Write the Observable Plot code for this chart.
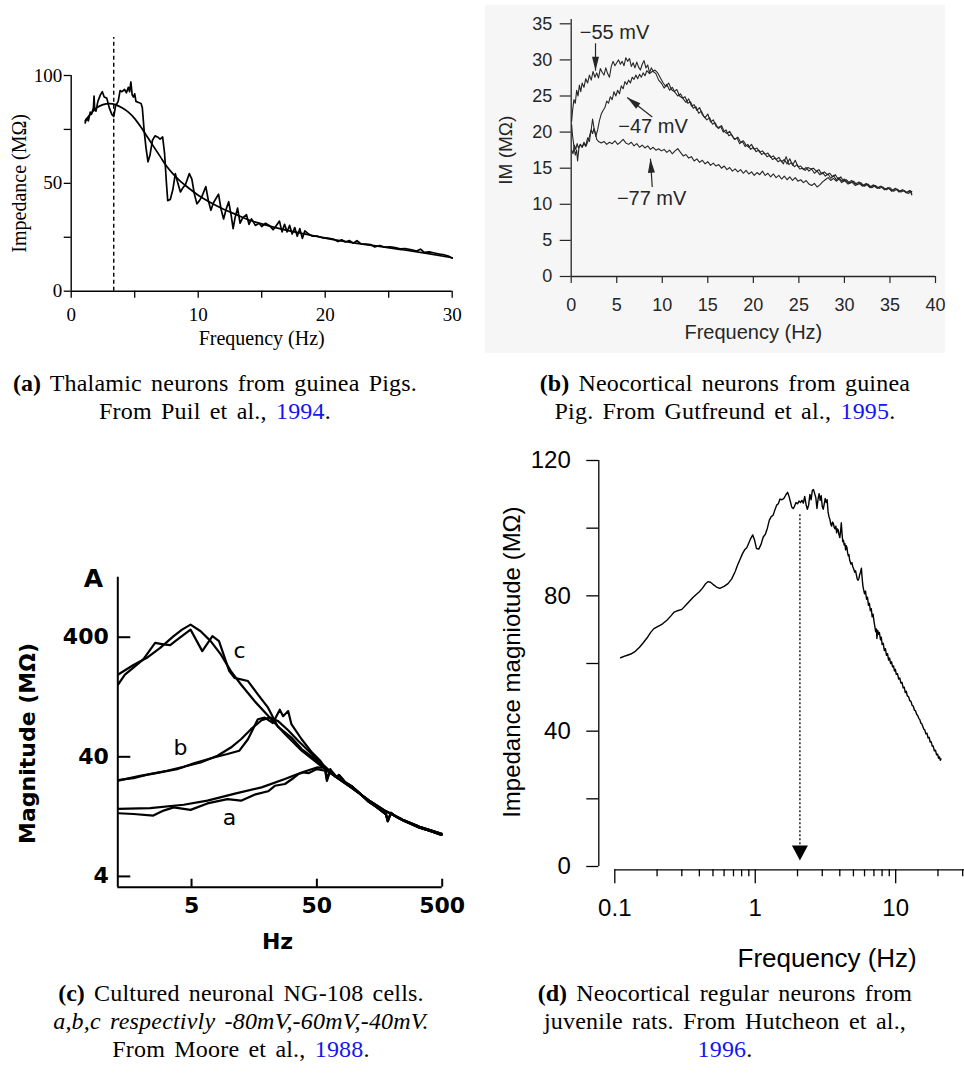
<!DOCTYPE html>
<html><head><meta charset="utf-8">
<script src="https://cdn.jsdelivr.net/npm/d3@7"></script>
<script src="https://cdn.jsdelivr.net/npm/@observablehq/plot@0.6"></script>
<style>
body{margin:0;background:#fff;}
#fig{position:relative;width:964px;height:1077px;overflow:hidden;background:#fff;}
#fig svg{position:absolute;overflow:visible;max-width:none;}
.cap{position:absolute;text-align:center;font-family:"Liberation Serif",serif;font-size:24px;line-height:28px;color:#000;letter-spacing:0.2px;word-spacing:3px;white-space:nowrap;}
.cap b{font-weight:bold;letter-spacing:0}
.cap .yr{color:#1515f0}
</style></head><body><div id="fig"></div>
<script>
// ---------- (a) Puil et al. 1994 ----------
const aXTicks = [0, 5, 10, 15, 20, 25, 30];
const aXLabels = [0, 10, 20, 30];
const aYTicks = [0, 25, 50, 75, 100];
const aYLabels = [0, 50, 100];
const aDash = [3.35, 117.6]; // frequency, top value
const aSmooth = [[1.1,79],[1.5,82],[2,85],[2.5,86.5],[3,87],[3.5,86.5],[4,85],[4.5,83],[5,80],[5.5,76],[6,71.5],[6.5,67],[7,62.5],[7.5,58],[8,54.5],[8.5,51.5],[9,49],[10,44.5],[11,41],[12,38],[13,35.5],[14,33],[15,31.2],[16,29.6],[17,28.2],[18,27],[19,25.8],[20,24.6],[22,22.6],[24,21],[26,19.3],[28,17.5],[30,15.5]];
const aNoisy = [[1.1,78],[1.2,80],[1.35,79],[1.5,83],[1.6,82],[1.75,85],[1.8,90.5],[1.85,84],[1.95,83.5],[2.1,88],[2.3,91],[2.45,92.5],[2.6,90],[2.8,89.5],[3.0,85],[3.2,82],[3.35,81],[3.5,86],[3.7,88],[3.85,93],[4.0,92.5],[4.2,93.5],[4.35,92],[4.5,94.5],[4.6,92.5],[4.7,97],[4.8,91],[4.9,90],[5.0,91.5],[5.1,88],[5.3,87.5],[5.5,87],[5.6,85],[5.75,74],[5.9,66],[6.05,60],[6.2,63],[6.4,70],[6.6,72],[6.8,71.5],[7.0,70.5],[7.2,71.5],[7.35,64],[7.5,50],[7.6,42],[7.8,42.5],[8.0,47],[8.2,54.5],[8.4,50],[8.6,46],[8.8,48],[9.0,49.5],[9.3,54.5],[9.5,52],[9.7,45],[9.9,40.5],[10.1,42],[10.3,44],[10.6,48.5],[10.8,42],[11.0,37.5],[11.2,41],[11.4,43],[11.6,45],[11.8,38],[12.0,33.5],[12.2,38],[12.4,41.5],[12.6,35],[12.75,29],[12.9,34],[13.1,38.5],[13.3,31.5],[13.5,34],[13.8,35.5],[14.0,31],[14.2,33.5],[14.5,30.5],[14.8,31.5],[15.0,30],[15.3,31.5],[15.6,30.5],[15.9,28.5],[16.1,30],[16.4,32.5],[16.6,27.5],[16.8,31],[17.0,27.5],[17.2,30.5],[17.4,26.5],[17.6,29.5],[17.8,25.5],[18.0,29],[18.2,24.5],[18.4,28],[18.7,26.5],[19.0,25.5],[19.4,25.5],[19.8,24.8],[20.3,24.5],[20.7,24],[21.0,23],[21.3,23.8],[21.6,22.8],[21.9,23.5],[22.2,22.3],[22.5,23.4],[22.8,22],[23.2,21.8],[23.6,21.6],[23.9,20.5],[24.3,21.2],[24.7,20.4],[25.1,20.6],[25.5,20.2],[25.9,19.6],[26.3,19.7],[26.8,19.2],[27.2,18.6],[27.5,19.5],[27.8,18],[28.2,18.2],[28.6,17.7],[29.0,17.2],[29.4,16.8],[29.7,16.3],[30.0,15.3]];

// ---------- (b) Gutfreund et al. 1995 ----------
const bXTicks = [0, 5, 10, 15, 20, 25, 30, 35, 40];
const bYTicks = [0, 5, 10, 15, 20, 25, 30, 35];
const b55 = [[0.05,21.5],[0.15,23],[0.3,24.5],[0.45,24],[0.6,25.8],[0.75,25],[0.9,26.5],[1.05,25.6],[1.2,26.8],[1.4,26.2],[1.6,27.4],[1.8,26.8],[2.0,27.9],[2.2,27.2],[2.4,28.4],[2.6,27.6],[2.8,28.2],[3.0,27.5],[3.2,28.8],[3.4,28.3],[3.6,27.9],[3.8,28.9],[4.0,28.1],[4.2,27.6],[4.4,29.1],[4.6,29.8],[4.8,29.2],[5.0,29.6],[5.2,30.0],[5.4,29.4],[5.6,29.8],[5.8,29.2],[6.0,30.3],[6.2,29.8],[6.4,30.2],[6.6,29.1],[6.8,29.6],[7.0,28.9],[7.2,29.7],[7.4,29.0],[7.6,28.6],[7.8,29.4],[8.0,29.9],[8.2,28.9],[8.4,29.3],[8.6,28.2],[8.8,28.9],[9.0,28.4],[9.3,28.1],[9.6,27.2],[9.9,26.8],[10.2,26.1],[10.5,26.6],[10.8,25.8],[11.1,26.2],[11.4,25.5],[11.7,25.0],[12.0,25.3],[12.3,24.6],[12.6,24.1],[12.9,24.6],[13.2,23.6],[13.5,23.8],[13.8,23.0],[14.1,23.4],[14.4,22.4],[14.7,22.0],[15.0,22.5],[15.3,21.4],[15.6,21.7],[15.9,20.8],[16.2,20.5],[16.5,20.9],[16.8,20.1],[17.1,19.8],[17.4,20.1],[17.7,19.4],[18.0,19.0],[18.3,19.3],[18.6,18.6],[18.9,18.8],[19.2,18.2],[19.5,17.9],[19.8,18.3],[20.1,17.6],[20.4,17.8],[20.7,17.2],[21.0,17.4],[21.3,16.9],[21.6,17.1],[21.9,16.5],[22.2,16.7],[22.5,16.2],[22.8,16.5],[23.1,15.9],[23.4,16.2],[23.7,15.6],[24.0,16.3],[24.3,15.4],[24.6,16.1],[24.9,15.2],[25.2,15.3],[25.5,14.8],[25.8,15.1],[26.1,14.6],[26.4,14.9],[26.7,14.3],[27.0,14.6],[27.3,14.1],[27.6,14.4],[27.9,13.9],[28.2,14.2],[28.5,13.6],[28.8,14.0],[29.1,13.4],[29.4,13.7],[29.7,13.2],[30.0,13.5],[30.4,13.0],[30.8,13.3],[31.2,12.8],[31.6,13.1],[32.0,12.6],[32.4,12.9],[32.8,12.4],[33.2,12.7],[33.6,12.3],[34.0,12.5],[34.4,12.1],[34.8,12.3],[35.2,11.9],[35.6,12.2],[36.0,11.8],[36.4,12.0],[36.8,11.6],[37.2,11.9],[37.4,11.5]];
const b47 = [[0.05,17.5],[0.2,17.0],[0.35,18.2],[0.5,17.6],[0.65,18.4],[0.8,17.8],[1.0,18.3],[1.2,17.9],[1.4,18.6],[1.6,18.1],[1.8,19.2],[2.0,18.7],[2.2,20.4],[2.35,21.8],[2.5,20.6],[2.7,19.4],[2.9,20.3],[3.1,21.6],[3.3,22.5],[3.5,23.0],[3.7,23.4],[3.9,24.3],[4.1,24.0],[4.3,24.9],[4.5,24.5],[4.7,25.6],[4.9,25.0],[5.1,25.8],[5.3,25.3],[5.5,26.4],[5.7,26.0],[5.9,27.0],[6.1,26.6],[6.3,27.2],[6.5,26.8],[6.7,27.6],[6.9,27.3],[7.1,27.9],[7.3,27.4],[7.5,28.0],[7.7,27.6],[7.9,28.2],[8.1,27.8],[8.3,28.5],[8.6,28.1],[8.9,28.4],[9.2,28.6],[9.5,28.2],[9.8,27.5],[10.1,26.8],[10.4,26.3],[10.7,26.8],[11.0,25.9],[11.3,25.6],[11.6,25.9],[11.9,25.0],[12.2,24.7],[12.5,24.9],[12.8,24.0],[13.1,24.2],[13.4,23.3],[13.7,23.5],[14.0,22.6],[14.3,22.9],[14.6,22.1],[14.9,21.7],[15.2,22.0],[15.5,21.1],[15.8,21.3],[16.1,20.6],[16.4,20.8],[16.7,20.0],[17.0,20.3],[17.3,19.5],[17.6,19.7],[17.9,19.0],[18.2,19.2],[18.5,18.4],[18.8,18.7],[19.1,18.0],[19.4,18.3],[19.7,17.6],[20.0,17.9],[20.3,17.3],[20.6,17.5],[20.9,16.9],[21.2,17.1],[21.5,16.6],[21.8,16.8],[22.1,16.2],[22.4,16.4],[22.7,15.9],[23.0,16.1],[23.3,15.6],[23.6,16.6],[23.9,15.5],[24.2,15.8],[24.5,15.2],[24.8,15.5],[25.1,14.9],[25.4,15.0],[25.7,14.7],[26.0,15.1],[26.3,14.9],[26.6,15.0],[26.9,14.6],[27.2,14.8],[27.5,14.2],[27.8,14.5],[28.1,14.1],[28.4,14.3],[28.7,13.8],[29.0,14.1],[29.3,13.5],[29.6,13.8],[29.9,13.2],[30.2,13.4],[30.6,12.9],[31.0,13.2],[31.4,12.7],[31.8,13.0],[32.2,12.5],[32.6,12.8],[33.0,12.3],[33.4,12.6],[33.8,12.2],[34.2,12.4],[34.6,12.0],[35.0,12.3],[35.4,11.8],[35.8,12.1],[36.2,11.7],[36.6,11.9],[37.0,11.5],[37.4,11.8]];
const b77 = [[0.05,21.0],[0.15,19.5],[0.3,18.0],[0.45,16.8],[0.6,17.5],[0.7,16.0],[0.85,17.8],[1.0,18.3],[1.2,17.9],[1.4,18.4],[1.6,18.0],[1.8,18.6],[2.0,19.4],[2.2,20.3],[2.35,19.8],[2.5,20.5],[2.65,19.9],[2.8,19.0],[3.0,18.7],[3.3,18.5],[3.6,18.7],[3.9,18.3],[4.2,18.6],[4.5,18.4],[4.8,18.8],[5.1,18.3],[5.4,18.6],[5.7,19.0],[6.0,18.5],[6.3,18.3],[6.6,18.6],[6.9,18.1],[7.2,18.4],[7.5,17.9],[7.8,18.2],[8.1,17.8],[8.4,18.1],[8.7,17.6],[9.0,17.9],[9.3,17.5],[9.6,17.7],[9.9,17.4],[10.2,17.6],[10.5,17.2],[10.8,17.5],[11.1,17.0],[11.4,17.4],[11.7,17.7],[12.0,17.2],[12.3,16.7],[12.6,16.9],[12.9,16.4],[13.2,16.6],[13.5,16.0],[13.8,16.3],[14.1,15.8],[14.4,16.1],[14.7,15.6],[15.0,15.9],[15.3,15.4],[15.6,15.7],[15.9,15.3],[16.2,15.5],[16.5,15.0],[16.8,15.3],[17.1,14.8],[17.4,15.1],[17.7,14.6],[18.0,14.9],[18.3,14.5],[18.6,14.8],[18.9,14.3],[19.2,14.7],[19.5,14.2],[19.8,14.5],[20.1,14.0],[20.4,14.4],[20.7,14.1],[21.0,14.6],[21.3,14.0],[21.6,14.3],[21.9,13.8],[22.2,14.2],[22.5,13.7],[22.8,14.0],[23.1,13.5],[23.4,13.9],[23.7,13.4],[24.0,13.8],[24.3,13.3],[24.6,13.7],[24.9,13.2],[25.2,13.4],[25.5,13.0],[25.8,13.3],[26.1,12.8],[26.4,12.6],[26.7,12.9],[27.0,12.4],[27.3,12.7],[27.6,13.1],[27.9,13.4],[28.2,13.7],[28.5,13.3],[28.8,13.6],[29.1,13.2],[29.4,13.5],[29.7,13.0],[30.0,13.3],[30.4,12.8],[30.8,13.1],[31.2,12.6],[31.6,12.9],[32.0,12.5],[32.4,12.8],[32.8,12.3],[33.2,12.6],[33.6,12.2],[34.0,12.5],[34.4,12.0],[34.8,12.3],[35.2,11.8],[35.6,12.2],[36.0,11.7],[36.4,12.0],[36.8,11.6],[37.2,11.9],[37.4,11.3]];
const bLabels = [{text: "\u221255 mV", f: 4.76, v: 33.8}, {text: "\u221247 mV", f: 8.98, v: 20.7}, {text: "\u221277 mV", f: 8.83, v: 10.8}];
const bArrows = [{f1: 2.67, v1: 32.3, f2: 2.67, v2: 28.5}, {f1: 8.9, v1: 22.1, f2: 6.15, v2: 24.8}, {f1: 8.9, v1: 12.4, f2: 8.7, v2: 16.3}];

// ---------- (c) Moore et al. 1988 ----------
const cXDomain = [1.29, 500];
const cYDomain = [3.25, 1270];
const cXTicks = [5, 50, 500];
const cYTicks = [4, 40, 400];
const cTailSmooth = [[70,27.5],[95,22],[130,17.3],[178,14],[242,11.9],[330,10.4],[494,9.1]];
const cTailNoisy = [[66,30],[72,27],[75,28.2],[84,24.5],[96,22.5],[110,19.8],[130,16.8],[150,15.2],[178,13.2],[184,11.6],[195,13.6],[215,12.6],[242,11.8],[280,11.0],[330,10.2],[400,9.6],[494,8.9]];
const cSmoothC = [[1.30,195],[1.72,234],[2.20,269],[2.81,326],[3.60,408],[4.20,463],[4.91,510],[5.91,449],[7.10,371],[8.56,287],[10.3,208],[12.4,161],[15.9,117],[20.4,88],[27.8,62],[37.8,45],[51.7,34.8]];
const cNoisyC = [[1.30,161],[1.47,195],[1.71,222],[2.06,261],[2.56,359],[2.99,348],[3.38,343],[3.71,371],[4.91,463],[6.09,306],[7.34,408],[8.28,371],[10.0,208],[11.0,183],[14.1,172],[16.9,133],[20.4,103],[24.3,72],[31.3,58],[37.8,46.4],[48.3,38.3],[58.3,31.6],[60.1,26.1],[64,31.6]];
const cSmoothB = [[1.30,25.6],[1.72,26.5],[2.34,28.7],[3.18,30.6],[4.33,33.0],[5.91,35.9],[8.05,40.8],[10.3,47.8],[12.4,56.1],[14.9,68.1],[18.1,80.9],[21.0,85.1],[24.4,79.8],[29.5,66.7],[35.6,54.3],[42.8,44.9],[51.7,37.1],[62.3,31]];
const cNoisyB = [[1.30,25.3],[1.94,27.7],[2.81,29.6],[3.83,31.5],[5.22,35.3],[7.53,39.5],[9.68,42.2],[12.0,44.9],[14.1,56.1],[16.9,82.4],[19.2,85.1],[22.3,76.7],[25.3,99],[26.9,87.5],[29.5,96.5],[31.3,75.2],[37.8,56.1],[45.6,43.6],[53.2,37.1],[60.1,30.6]];
const cSmoothA = [[1.30,14.7],[2.34,14.9],[4.33,15.9],[6.69,17.2],[10.9,19.6],[18.1,22.2],[27.8,26.1],[37.8,29.6],[50.0,32.6],[58.3,32.4]];
const cNoisyA = [[1.30,13.5],[1.72,13.3],[2.48,12.9],[2.99,14.2],[3.60,15.1],[4.91,14.4],[6.69,16.3],[9.68,17.7],[12.4,17.2],[15.9,19.3],[20.4,20.6],[23.1,22.9],[27.8,23.7],[32.6,26.6],[35.6,28.7],[39.0,29.6],[42.8,29.2],[50.0,31.6],[58.3,30.6],[60.1,25.2],[64,30.6]];
const cCurveLabels = [{t: "c", f: 12.08, v: 309.6}, {t: "b", f: 4.08, v: 47.3}, {t: "a", f: 10.06, v: 12.3}];

// ---------- (d) Hutcheon et al. 1996 ----------
const dXDomain = [0.1, 30.9];
const dXMajor = [0.1, 1, 10];
const dXMinor = [0.2,0.3,0.4,0.5,0.6,0.7,0.8,0.9,2,3,4,5,6,7,8,9,20,30];
const dYTicks = [0, 20, 40, 60, 80, 100, 120];
const dYLabels = [0, 40, 80, 120];
const dPeak = [2.08, 104, 1.8]; // frequency, arrow start, arrow tip
const dCurve = [[0.11,61.7],[0.12,62.3],[0.13,62.8],[0.14,63.6],[0.15,64.8],[0.16,66.2],[0.17,67.6],[0.18,69.2],[0.19,70.3],[0.2,70.8],[0.21,71.3],[0.22,71.8],[0.235,72.8],[0.25,74.0],[0.265,75.2],[0.28,75.6],[0.3,76.0],[0.32,77.2],[0.34,78.4],[0.36,79.5],[0.38,80.4],[0.40,81.2],[0.42,82.2],[0.44,83.4],[0.46,84.2],[0.48,84.0],[0.50,83.4],[0.53,82.6],[0.56,82.2],[0.6,82.8],[0.64,83.6],[0.68,85.0],[0.72,87.2],[0.75,89.2],[0.78,90.8],[0.81,92.4],[0.84,93.6],[0.87,94.2],[0.9,95.6],[0.93,97.0],[0.96,98.0],[0.99,96.4],[1.02,94.0],[1.06,93.8],[1.1,95.2],[1.14,97.4],[1.18,98.2],[1.22,100.0],[1.26,102.4],[1.3,103.4],[1.34,103.8],[1.38,105.4],[1.42,106.8],[1.46,107.2],[1.5,108.6],[1.55,108.4],[1.6,108.8],[1.65,109.8],[1.7,110.6],[1.74,109.4],[1.78,107.8],[1.82,106.2],[1.86,105.8],[1.9,106.4],[1.95,107.6],[2.0,107.2],[2.05,108.0],[2.1,107.6],[2.15,108.2],[2.2,107.4],[2.25,109.4],[2.3,107.0],[2.35,105.6],[2.4,106.8],[2.45,110.0],[2.5,108.4],[2.55,111.2],[2.6,111.4],[2.65,110.2],[2.7,109.0],[2.75,105.8],[2.8,108.6],[2.85,110.2],[2.9,108.2],[2.95,109.6],[3.0,106.4],[3.05,105.6],[3.1,107.2],[3.15,108.8],[3.2,107.6],[3.25,108.4],[3.3,104.8],[3.35,103.4],[3.4,102.6],[3.45,101.2],[3.5,100.6],[3.55,101.8],[3.6,101.4],[3.65,100.2],[3.7,99.8],[3.75,100.6],[3.8,98.6],[3.85,99.8],[3.9,99.4],[3.95,98.0],[4.0,97.2],[4.05,99.0],[4.1,101.6],[4.15,98.4],[4.2,96.0],[4.25,96.4],[4.3,95.0],[4.35,95.4],[4.4,93.6],[4.45,94.8],[4.5,94.2],[4.55,92.6],[4.6,91.8],[4.65,92.2],[4.7,90.6],[4.75,90.0],[4.8,89.4],[4.88,89.8],[4.95,88.6],[5.02,88.0],[5.1,87.0],[5.18,87.4],[5.25,86.2],[5.32,85.0],[5.4,84.6],[5.48,85.2],[5.55,86.4],[5.62,87.0],[5.7,88.2],[5.75,86.0],[5.8,84.2],[5.85,82.8],[5.9,82.0],[6.0,80.6],[6.1,81.4],[6.2,79.0],[6.3,79.6],[6.4,77.2],[6.5,77.8],[6.6,75.6],[6.7,76.2],[6.8,73.8],[6.9,74.6],[7.0,72.6],[7.1,71.0],[7.2,69.4],[7.3,70.2],[7.35,67.4],[7.45,69.8],[7.55,68.6],[7.65,69.2],[7.8,67.0],[7.9,67.8],[8.0,65.6],[8.15,66.0],[8.3,63.8],[8.45,64.4],[8.6,62.4],[8.75,62.9],[8.9,61.0],[9.05,61.6],[9.2,60.0],[9.35,60.5],[9.5,59.0],[9.65,59.3],[9.8,57.8],[9.95,58.3],[10.1,56.8],[10.3,57.0],[10.5,55.4],[10.7,55.7],[10.9,54.2],[11.1,54.4],[11.3,52.8],[11.5,53.0],[11.7,51.4],[11.9,51.8],[12.1,50.4],[12.35,50.2],[12.6,49.0],[12.85,48.8],[13.1,47.6],[13.35,47.4],[13.6,46.2],[13.85,46.0],[14.1,45.0],[14.35,44.6],[14.6,43.8],[14.85,43.4],[15.1,42.4],[15.35,42.2],[15.6,41.4],[15.85,40.6],[16.1,40.4],[16.4,39.2],[16.7,39.4],[17.0,38.0],[17.3,38.2],[17.6,36.8],[17.9,36.9],[18.2,35.6],[18.5,35.6],[18.85,34.2],[19.2,34.4],[19.55,33.0],[19.9,33.2],[20.2,32.0],[20.5,32.4],[20.8,31.4],[21.0,31.8]];

// ---------- helpers ----------
const fig = document.getElementById("fig");
function put(el, left, top) { el.style.left = left + "px"; el.style.top = top + "px"; fig.appendChild(el); }
const fx = d => d[0], fy = d => d[1];
const mid = {textAnchor: "middle", lineAnchor: "middle"};
// arrowhead symbol: tip at origin, pointing up
function head(L, W) { return {draw(ctx) { ctx.moveTo(0, 0); ctx.lineTo(-W / 2, L); ctx.lineTo(W / 2, L); ctx.closePath(); }}; }

// ---------- panel (a) ----------
const serif = '"Liberation Serif", "Times New Roman", serif';
put(Plot.plot({
  width: 480, height: 355, marginLeft: 70.7, marginRight: 28.3, marginTop: 75, marginBottom: 64.3,
  x: {domain: [0, 30]}, y: {domain: [0, 100]},
  style: {fontFamily: serif, fontSize: "19px", color: "#000", background: "transparent"},
  marks: [
    Plot.ruleY([0], {x1: 0, x2: 30, strokeWidth: 1.4}),
    Plot.ruleX([0], {y1: 0, y2: 100, strokeWidth: 1.4}),
    Plot.axisX({ticks: aXTicks, tickSize: 7, tickPadding: 9, strokeWidth: 1.3, label: null, tickFormat: d => aXLabels.includes(d) ? String(d) : ""}),
    Plot.axisY({ticks: aYTicks, tickSize: 7, tickPadding: 2, strokeWidth: 1.3, label: null, tickFormat: d => aYLabels.includes(d) ? String(d) : ""}),
    Plot.ruleX([aDash[0]], {y1: 0, y2: aDash[1], strokeDasharray: "4,3", strokeWidth: 1.4}),
    Plot.line(aSmooth, {x: fx, y: fy, strokeWidth: 1.7, curve: "monotone-x"}),
    Plot.line(aNoisy, {x: fx, y: fy, strokeWidth: 1.7}),
    Plot.text(["Impedance (M\u03a9)"], {frameAnchor: "left", dx: -51.7, rotate: -90, fontSize: 20, ...mid}),
    Plot.text(["Frequency (Hz)"], {frameAnchor: "bottom", dy: 47.3, fontSize: 20, ...mid})
  ]
}), 0, 0);

// ---------- panel (b) ----------
const sans = '"Liberation Sans", Arial, Helvetica, sans-serif';
const bInk = "#262626";
const bx = d => d.f, by = d => d.v;
put(Plot.plot({
  width: 460, height: 348, marginLeft: 85.7, marginRight: 10, marginTop: 18.3, marginBottom: 77,
  x: {domain: [0, 40]}, y: {domain: [0, 35]},
  style: {fontFamily: sans, fontSize: "18px", color: bInk, background: "#f6f6f6"},
  marks: [
    Plot.ruleY([0], {x1: 0, x2: 40, stroke: bInk, strokeWidth: 1.3}),
    Plot.ruleX([0], {y1: 0, y2: 35.6, stroke: bInk, strokeWidth: 1.3}),
    Plot.axisX({ticks: bXTicks, tickSize: 7, tickPadding: 15, stroke: bInk, strokeWidth: 1.2, label: null}),
    Plot.axisY({ticks: bYTicks, tickSize: 11, tickPadding: 8, stroke: bInk, strokeWidth: 1.2, label: null}),
    Plot.line(b77, {x: fx, y: fy, stroke: bInk, strokeWidth: 1.1}),
    Plot.line(b47, {x: fx, y: fy, stroke: bInk, strokeWidth: 1.1}),
    Plot.line(b55, {x: fx, y: fy, stroke: bInk, strokeWidth: 1.1}),
    Plot.link(bArrows, {x1: d => d.f1, y1: d => d.v1, x2: d => d.f2, y2: d => d.v2, stroke: bInk, strokeWidth: 1.2}),
    Plot.dot([bArrows[0]], {x: d => d.f2, y: d => d.v2, symbol: head(14, 7), r: 5, fill: bInk, stroke: null, rotate: 180}),
    Plot.dot([bArrows[1]], {x: d => d.f2, y: d => d.v2, symbol: head(14, 7), r: 5, fill: bInk, stroke: null, rotate: -52}),
    Plot.dot([bArrows[2]], {x: d => d.f2, y: d => d.v2, symbol: head(14, 7), r: 5, fill: bInk, stroke: null, rotate: -4}),
    Plot.text(bLabels, {x: bx, y: by, text: d => d.text, fontSize: 20, fill: bInk}),
    Plot.text(["IM (M\u03a9)"], {frameAnchor: "left", dx: -65.7, rotate: -90, fontSize: 19, fill: bInk, ...mid}),
    Plot.text(["Frequency (Hz)"], {frameAnchor: "bottom", dy: 55.7, fontSize: 20, fill: bInk, ...mid})
  ]
}), 485, 5);

// ---------- panel (c) ----------
const dv = '"DejaVu Sans", Verdana, sans-serif';
put(Plot.plot({
  width: 480, height: 420, marginLeft: 117.3, marginRight: 38.3, marginTop: 36.7, marginBottom: 73.3,
  x: {type: "log", domain: cXDomain, axis: null}, y: {type: "log", domain: cYDomain},
  style: {fontFamily: dv, fontSize: "22px", fontWeight: "bold", color: "#000", background: "transparent"},
  marks: [
    Plot.ruleX([cXDomain[0]], {y1: cYDomain[0], y2: cYDomain[1], strokeWidth: 2}),
    Plot.ruleY([cYDomain[0]], {x1: cXDomain[0], x2: cXDomain[1], strokeWidth: 2}),
    Plot.tickX(cXTicks, {x: d => d, insetTop: 302, strokeWidth: 2}),
    Plot.text(cXTicks, {x: d => d, frameAnchor: "bottom", dy: 18.3, text: d => String(d), fontSize: 22, fontWeight: "bold", ...mid}),
    Plot.axisY({ticks: cYTicks, tickSize: -13, tickPadding: 22, strokeWidth: 2, label: null, tickFormat: d => String(d)}),
    Plot.line(cSmoothC.concat(cTailSmooth), {x: fx, y: fy, strokeWidth: 2.2}),
    Plot.line(cNoisyC.concat(cTailNoisy), {x: fx, y: fy, strokeWidth: 2.2}),
    Plot.line(cSmoothB.concat(cTailSmooth), {x: fx, y: fy, strokeWidth: 2.2}),
    Plot.line(cNoisyB.concat(cTailNoisy.slice(1)), {x: fx, y: fy, strokeWidth: 2.2}),
    Plot.line(cSmoothA.concat(cTailSmooth), {x: fx, y: fy, strokeWidth: 2.2}),
    Plot.line(cNoisyA.concat(cTailNoisy), {x: fx, y: fy, strokeWidth: 2.2}),
    Plot.text(cCurveLabels, {x: d => d.f, y: d => d.v, text: d => d.t, fontSize: 22, fontWeight: "normal"}),
    Plot.text(["A"], {frameAnchor: "top-left", dx: -24.3, dy: 1.3, fontSize: 25, fontWeight: "bold", ...mid}),
    Plot.text(["Magnitude (M\u03a9)"], {frameAnchor: "left", dx: -90.3, dy: 11.3, rotate: -90, fontSize: 22, fontWeight: "bold", ...mid}),
    Plot.text(["Hz"], {frameAnchor: "bottom", dx: -2.5, dy: 55, fontSize: 22, fontWeight: "bold", ...mid})
  ]
}), 0, 540);

// ---------- panel (d) ----------
put(Plot.plot({
  width: 484, height: 535, marginLeft: 118.3, marginRight: 0, marginTop: 20, marginBottom: 105.7,
  x: {type: "log", domain: dXDomain, range: [134.3, 484]},
  y: {domain: [0, 120], range: [426, 20]},
  style: {fontFamily: sans, fontSize: "24px", color: "#000", background: "transparent"},
  marks: [
    Plot.ruleX([dXDomain[0]], {y1: 0, y2: 120, dx: -16, strokeWidth: 1.3}),
    Plot.ruleY([0], {x1: dXDomain[0], x2: dXDomain[1], dy: 3.3, strokeWidth: 1.3}),
    Plot.axisY({ticks: dYTicks, tickSize: 12, tickPadding: 16, strokeWidth: 1.3, label: null, tickFormat: d => dYLabels.includes(d) ? String(d) : ""}),
    Plot.axisX({ticks: dXMajor, tickSize: 14, tickPadding: 15, strokeWidth: 1.3, label: null, tickFormat: d => String(d)}),
    Plot.axisX({ticks: dXMinor, tickSize: 7, strokeWidth: 1.3, label: null, tickFormat: () => ""}),
    Plot.line(dCurve, {x: fx, y: fy, strokeWidth: 1.4}),
    Plot.ruleX([dPeak[0]], {y1: dPeak[1], y2: dPeak[2] + 4, strokeDasharray: "2,2", strokeWidth: 1.3}),
    Plot.dot([dPeak[0]], {x: d => d, y: dPeak[2], symbol: head(15, 16), r: 5, fill: "#000", stroke: null, rotate: 180}),
    Plot.text(["Impedance magniotude (M\u03a9)"], {frameAnchor: "left", dx: -86.6, dy: -3, rotate: -90, fontSize: 24, ...mid}),
    Plot.text(["Frequency (Hz)"], {frameAnchor: "bottom", dx: 45.5, dy: 88.7, fontSize: 26, ...mid})
  ]
}), 480, 440);

// ---------- captions ----------
function cap(html, left, top, width) { const d = document.createElement("div"); d.className = "cap"; d.style.width = width + "px"; d.innerHTML = html; put(d, left, top); }
cap('<b>(a)</b> Thalamic neurons from guinea Pigs.<br>From Puil et al., <span class="yr">1994</span>.', 0, 369, 430);
cap('<b>(b)</b> Neocortical neurons from guinea<br>Pig. From Gutfreund et al., <span class="yr">1995</span>.', 505, 369, 440);
cap('<b>(c)</b> Cultured neuronal NG-108 cells.<br><i>a,b,c respectivly -80mV,-60mV,-40mV.</i><br>From Moore et al., <span class="yr">1988</span>.', 0, 979, 482);
cap('<b>(d)</b> Neocortical regular neurons from<br>juvenile rats. From Hutcheon et al.,<br><span class="yr">1996</span>.', 505, 979, 440);
</script></body></html>
